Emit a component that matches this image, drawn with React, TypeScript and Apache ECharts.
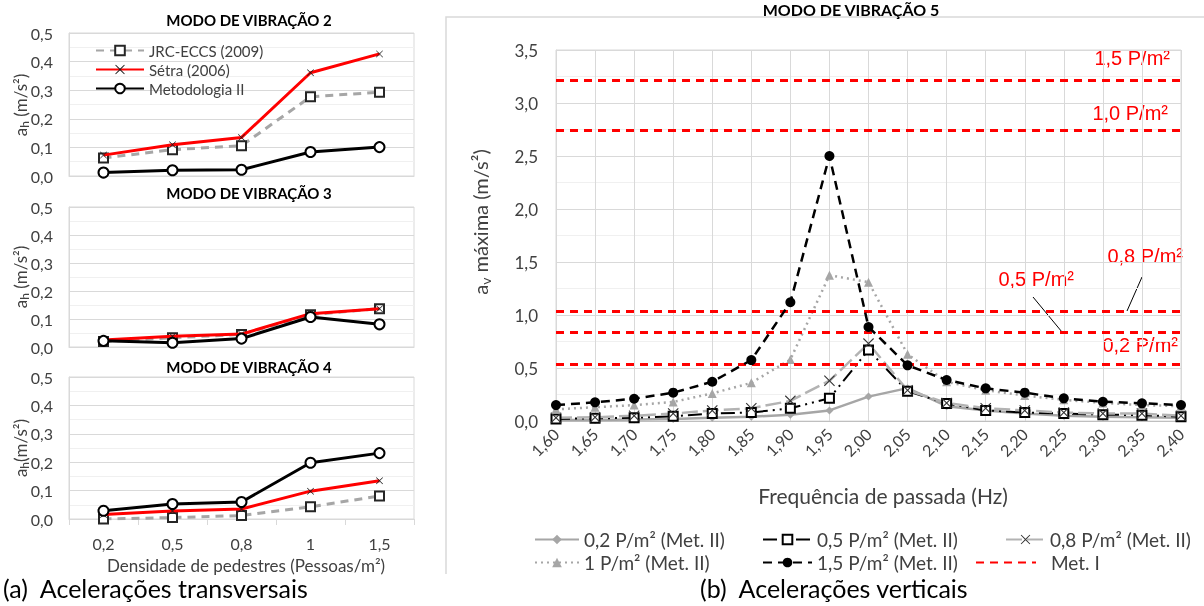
import React, { useEffect, useRef } from "react";
import * as echarts from "echarts";

// ---------- data ----------
const densidades = ["0,2", "0,5", "0,8", "1", "1,5"];
const yTicksLeft = [0, 0.1, 0.2, 0.3, 0.4, 0.5];

const m2Jrc = [0.063, 0.092, 0.106, 0.277, 0.293];
const m2Setra = [0.073, 0.109, 0.135, 0.361, 0.427];
const m2Met = [0.012, 0.02, 0.022, 0.084, 0.101];

const m3Jrc = [0.02, 0.033, 0.045, 0.115, 0.137];
const m3Setra = [0.025, 0.038, 0.046, 0.119, 0.137];
const m3Met = [0.022, 0.015, 0.03, 0.107, 0.081];

const m4Jrc = [0.0, 0.005, 0.012, 0.043, 0.081];
const m4Setra = [0.016, 0.028, 0.035, 0.098, 0.135];
const m4Met = [0.029, 0.053, 0.06, 0.198, 0.232];

const freqs = ["1,60", "1,65", "1,70", "1,75", "1,80", "1,85", "1,90", "1,95", "2,00", "2,05", "2,10", "2,15", "2,20", "2,25", "2,30", "2,35", "2,40"];
const v02 = [0.01, 0.01, 0.015, 0.02, 0.03, 0.04, 0.06, 0.1, 0.23, 0.31, 0.14, 0.1, 0.07, 0.05, 0.04, 0.035, 0.03];
const v05 = [0.02, 0.025, 0.03, 0.045, 0.07, 0.08, 0.12, 0.215, 0.67, 0.28, 0.165, 0.1, 0.08, 0.07, 0.06, 0.055, 0.04];
const v08 = [0.03, 0.035, 0.05, 0.07, 0.1, 0.12, 0.19, 0.38, 0.73, 0.29, 0.17, 0.12, 0.1, 0.08, 0.07, 0.07, 0.05];
const v10 = [0.11, 0.13, 0.15, 0.18, 0.26, 0.36, 0.58, 1.375, 1.31, 0.63, 0.37, 0.29, 0.24, 0.2, 0.17, 0.15, 0.14];
const v15 = [0.15, 0.176, 0.21, 0.267, 0.37, 0.575, 1.12, 2.5, 0.887, 0.525, 0.387, 0.308, 0.267, 0.214, 0.182, 0.167, 0.151];

const metILevels = [3.21, 2.74, 1.04, 0.84, 0.54];
const metILabels = ["1,5 P/m²", "1,0 P/m²", "0,8 P/m²", "0,5 P/m²", "0,2 P/m²"];

const FONT = "Lato, 'Open Sans', sans-serif";
const GRID_C = "#d9d9d9";
const MINOR_C = "#f0f0f0";
const TXT = "#404040";
const XSYM =
  "path://M0,0.7L0.7,0L5,4.3L9.3,0L10,0.7L5.7,5L10,9.3L9.3,10L5,5.7L0.7,10L0,9.3L4.3,5Z";
const fmt1 = (v: number) => v.toFixed(1).replace(".", ",");

export default function App() {
  const ref = useRef<HTMLDivElement>(null);

  useEffect(() => {
    if (!ref.current) return;
    const chart = echarts.init(ref.current, undefined, { renderer: "svg" });

    const leftGrids = [
      { left: 69, top: 33, width: 345, height: 143 },
      { left: 69, top: 207, width: 345, height: 140 },
      { left: 69, top: 377, width: 345, height: 142 },
    ];
    const rightGrid = { left: 556, top: 50, width: 625, height: 371 };

    const leftX = [0, 1, 2].map((i) => ({
      type: "category",
      gridIndex: i,
      data: densidades,
      boundaryGap: true,
      axisLine: { show: true, lineStyle: { color: GRID_C, width: 1 } },
      axisTick: { show: i === 2, length: 6, lineStyle: { color: GRID_C } },
      axisLabel: { show: i === 2, color: TXT, fontSize: 16, fontFamily: FONT, margin: 16 },
      splitLine: { show: false },
    }));
    const leftY = [0, 1, 2].map((i) => ({
      type: "value",
      gridIndex: i,
      min: yTicksLeft[0],
      max: yTicksLeft[yTicksLeft.length - 1],
      interval: 0.1,
      axisLine: { show: true, lineStyle: { color: GRID_C } },
      axisTick: { show: false },
      axisLabel: { color: TXT, fontSize: 16, fontFamily: FONT, margin: 16, formatter: fmt1 },
      splitLine: { lineStyle: { color: GRID_C } },
      minorTick: { show: false, splitNumber: 2 },
      minorSplitLine: { show: true, lineStyle: { color: MINOR_C } },
    }));

    const mkLeft = (i: number, jrc: number[], setra: number[], met: number[]) => [
      {
        name: "JRC-ECCS (2009)",
        type: "line",
        xAxisIndex: i,
        yAxisIndex: i,
        data: jrc,
        symbol: "emptyRect",
        symbolSize: 9,
        itemStyle: { color: "#262626", borderWidth: 1.6 },
        lineStyle: { color: "#a6a6a6", width: 3, type: [8, 6] },
        z: 2,
      },
      {
        name: "Sétra (2006)",
        type: "line",
        xAxisIndex: i,
        yAxisIndex: i,
        data: setra,
        symbol: XSYM,
        symbolSize: 7,
        itemStyle: { color: "#1a1a1a" },
        lineStyle: { color: "#ff0000", width: 3 },
        z: 3,
      },
      {
        name: "Metodologia II",
        type: "line",
        xAxisIndex: i,
        yAxisIndex: i,
        data: met,
        symbol: "emptyCircle",
        symbolSize: 10,
        itemStyle: { color: "#000", borderWidth: 1.6 },
        lineStyle: { color: "#000", width: 3 },
        z: 4,
      },
    ];

    const rightSeries = [
      {
        name: "0,2 P/m² (Met. II)",
        type: "line",
        xAxisIndex: 3,
        yAxisIndex: 3,
        data: v02,
        symbol: "diamond",
        symbolSize: 8,
        itemStyle: { color: "#a6a6a6" },
        lineStyle: { color: "#a6a6a6", width: 2.5 },
      },
      {
        name: "0,5 P/m² (Met. II)",
        type: "line",
        xAxisIndex: 3,
        yAxisIndex: 3,
        data: v05,
        symbol: "emptyRect",
        symbolSize: 9,
        itemStyle: { color: "#000", borderWidth: 1.4 },
        lineStyle: { color: "#000", width: 2, type: [14, 5, 2, 5, 2, 5] },
      },
      {
        name: "0,8 P/m² (Met. II)",
        type: "line",
        xAxisIndex: 3,
        yAxisIndex: 3,
        data: v08,
        symbol: XSYM,
        symbolSize: 11,
        itemStyle: { color: "#333" },
        lineStyle: { color: "#b3b3b3", width: 2.5, type: [16, 5] },
      },
      {
        name: "1 P/m² (Met. II)",
        type: "line",
        xAxisIndex: 3,
        yAxisIndex: 3,
        data: v10,
        symbol: "triangle",
        symbolSize: 9,
        itemStyle: { color: "#a6a6a6" },
        lineStyle: { color: "#a6a6a6", width: 2.5, type: [2, 4] },
      },
      {
        name: "1,5 P/m² (Met. II)",
        type: "line",
        xAxisIndex: 3,
        yAxisIndex: 3,
        data: v15,
        symbol: "circle",
        symbolSize: 10,
        itemStyle: { color: "#000" },
        lineStyle: { color: "#000", width: 2.5, type: [9, 6] },
        z: 5,
      },
      {
        name: "Met. I",
        type: "line",
        xAxisIndex: 3,
        yAxisIndex: 3,
        data: freqs.map(() => null),
        symbol: "none",
        showSymbol: false,
        itemStyle: { color: "#ff0000" },
        lineStyle: { color: "#ff0000", width: 3, type: [8, 6] },
        markLine: {
          silent: true,
          symbol: "none",
          label: { show: false },
          lineStyle: { color: "#ff0000", width: 3, type: [8, 6] },
          data: metILevels.map((v) => ({ yAxis: v })),
        },
        z: 1,
      },
    ];

    const legendBase = {
      itemHeight: 12,
      textStyle: { color: TXT, fontSize: 19, fontFamily: FONT },
      selectedMode: false,
    };
    const rightLegendPos = [
      { name: "0,2 P/m² (Met. II)", left: 529, top: 525, w: 44 },
      { name: "0,5 P/m² (Met. II)", left: 757, top: 525, w: 49 },
      { name: "0,8 P/m² (Met. II)", left: 1000, top: 525, w: 39 },
      { name: "1 P/m² (Met. II)", left: 529, top: 548, w: 44 },
      { name: "1,5 P/m² (Met. II)", left: 757, top: 548, w: 49 },
    ];

    const titleStyle = { fontSize: 15, fontWeight: "bold", fill: "#000", fontFamily: FONT, textAlign: "center", textVerticalAlign: "middle" };
    const yName = (x: number, y: number, sub: string, rest: string, fs: number) => ({
      type: "text",
      x,
      y,
      rotation: Math.PI / 2,
      style: {
        text: `{a|a}{s|${sub}}{a|${rest}}`,
        rich: {
          a: { fontSize: fs, fontFamily: FONT, fill: TXT, lineHeight: fs + 4 },
          s: { fontSize: Math.round(fs * 0.68), fontFamily: FONT, fill: TXT, verticalAlign: "bottom", lineHeight: fs + 4, padding: [Math.round(fs / 2), 0, 0, 0] },
        },
        textAlign: "center",
        textVerticalAlign: "middle",
      },
    });
    const red = { fill: "#ff0000", fontSize: 20, fontFamily: "'Liberation Sans', Arial, sans-serif" };

    chart.setOption({
      animation: false,
      grid: [
        ...leftGrids.map((g) => ({ ...g, show: true, borderColor: GRID_C, borderWidth: 1 })),
        { ...rightGrid, show: true, borderColor: GRID_C, borderWidth: 1 },
      ],
      xAxis: [
        ...leftX,
        {
          type: "category",
          gridIndex: 3,
          data: freqs,
          boundaryGap: false,
          axisLine: { show: true, lineStyle: { color: "#bfbfbf" } },
          axisTick: { show: false },
          axisLabel: { color: TXT, fontSize: 16, fontFamily: FONT, rotate: 45, margin: 10, interval: 0 },
          splitLine: { show: true, lineStyle: { color: GRID_C } },
        },
      ],
      yAxis: [
        ...leftY,
        {
          type: "value",
          gridIndex: 3,
          min: 0,
          max: 3.5,
          interval: 0.5,
          axisLine: { show: true, lineStyle: { color: GRID_C } },
          axisTick: { show: false },
          axisLabel: { color: TXT, fontSize: 17, fontFamily: FONT, margin: 18, formatter: fmt1 },
          splitLine: { lineStyle: { color: GRID_C } },
          minorTick: { show: false, splitNumber: 2 },
          minorSplitLine: { show: true, lineStyle: { color: MINOR_C } },
        },
      ],
      legend: [
        {
          ...legendBase,
          textStyle: { color: TXT, fontSize: 15, fontFamily: FONT },
          data: ["JRC-ECCS (2009)", "Sétra (2006)", "Metodologia II"],
          orient: "vertical",
          left: 90,
          top: 38,
          itemWidth: 48,
          itemGap: 4,
        },
        ...rightLegendPos.map((p) => ({ ...legendBase, data: [p.name], left: p.left, top: p.top, itemWidth: p.w })),
        {
          ...legendBase,
          data: [{ name: "Met. I", itemStyle: { opacity: 0 } }],
          left: 970,
          top: 548,
          itemWidth: 60,
          textStyle: { color: TXT, fontSize: 19, fontFamily: FONT, padding: [0, 0, 0, 10] },
        },
      ],
      series: [
        ...mkLeft(0, m2Jrc, m2Setra, m2Met),
        ...mkLeft(1, m3Jrc, m3Setra, m3Met),
        ...mkLeft(2, m4Jrc, m4Setra, m4Met),
        ...rightSeries,
      ],
      graphic: [
        { type: "polyline", shape: { points: [[446, 574], [446, 17], [1210, 17]] }, style: { stroke: GRID_C, lineWidth: 1.5, fill: null } },
        { type: "text", x: 249, y: 20, style: { ...titleStyle, text: "MODO DE VIBRAÇÃO 2" } },
        { type: "text", x: 249, y: 193, style: { ...titleStyle, text: "MODO DE VIBRAÇÃO 3" } },
        { type: "text", x: 249, y: 367, style: { ...titleStyle, text: "MODO DE VIBRAÇÃO 4" } },
        { type: "text", x: 851, y: 9, style: { ...titleStyle, fontSize: 16, text: "MODO DE VIBRAÇÃO 5" } },
        yName(20, 105, "h", " (m/s²)", 17),
        yName(20, 277, "h", " (m/s²)", 17),
        yName(20, 448, "h", "(m/s²)", 17),
        yName(480, 222, "v", " máxima (m/s²)", 20),
        { type: "text", x: 246, y: 565, style: { text: "Densidade de pedestres (Pessoas/m²)", fontSize: 17, fontFamily: FONT, fill: TXT, textAlign: "center", textVerticalAlign: "middle" } },
        { type: "text", x: 883, y: 495, style: { text: "Frequência de passada (Hz)", fontSize: 21, fontFamily: FONT, fill: TXT, textAlign: "center", textVerticalAlign: "middle" } },
        { type: "text", x: 3, y: 588, style: { text: "(a)  Acelerações transversais", fontSize: 25, fontFamily: FONT, fill: "#000", textVerticalAlign: "middle" } },
        { type: "text", x: 700, y: 588, style: { text: "(b)  Acelerações verticais", fontSize: 25, fontFamily: FONT, fill: "#000", textVerticalAlign: "middle" } },
        { type: "text", x: 1170, y: 58, style: { ...red, text: metILabels[0], textAlign: "right", textVerticalAlign: "middle" } },
        { type: "text", x: 1168, y: 113, style: { ...red, text: metILabels[1], textAlign: "right", textVerticalAlign: "middle" } },
        { type: "text", x: 1183, y: 256, style: { ...red, text: metILabels[2], textAlign: "right", textVerticalAlign: "middle" } },
        { type: "text", x: 1074, y: 279, style: { ...red, text: metILabels[3], textAlign: "right", textVerticalAlign: "middle" } },
        { type: "text", x: 1178, y: 345, style: { ...red, text: metILabels[4], textAlign: "right", textVerticalAlign: "middle" } },
        { type: "line", shape: { x1: 1033, y1: 297, x2: 1062, y2: 332 }, style: { stroke: "#000", lineWidth: 1 } },
        { type: "line", shape: { x1: 1142, y1: 277, x2: 1127, y2: 311 }, style: { stroke: "#000", lineWidth: 1 } },
      ],
    });

    return () => chart.dispose();
  }, []);

  return <div ref={ref} style={{ position: "fixed", left: 0, top: 0, width: 1204, height: 606 }} />;
}
